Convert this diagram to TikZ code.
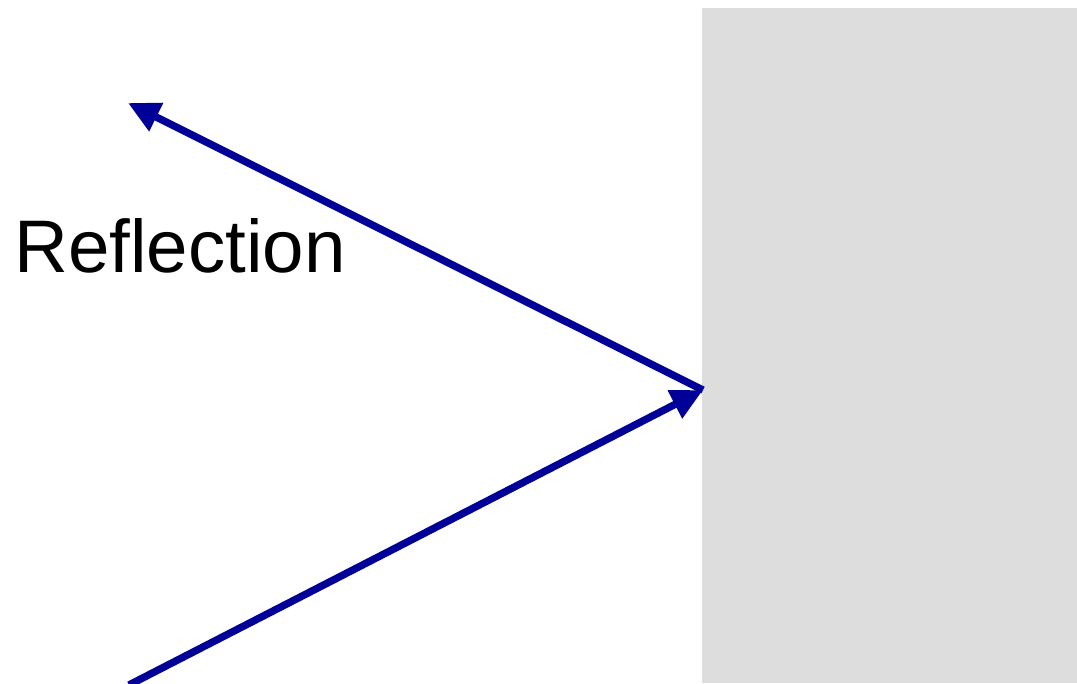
\documentclass[tikz,border=0pt]{standalone}
\usepackage{fontspec}
\setmainfont{Liberation Sans}
\usetikzlibrary{arrows.meta}
\definecolor{ray}{HTML}{000099}
\definecolor{mirror}{HTML}{DDDDDD}

\begin{document}
\begin{tikzpicture}[
    every node/.style={font=\fontsize{21.2}{25}\selectfont},
    beam/.style={
        draw=ray, line width=2.1pt,
        -{Triangle[length=9pt, width=8.5pt]},
    },
]
\useasboundingbox (0,0) rectangle (10.77,6.83);

% ── Mirror surface ─────────────────────────────────────────────────────
\fill[mirror] (7.02,0) rectangle (10.77,6.75);

% ── Rays ───────────────────────────────────────────────────────────────
\coordinate (src) at (1.29,-0.02);
\coordinate (hit) at (7.03,2.93);
\coordinate (out) at (1.28,5.80);

\draw[beam] (src) -- (hit);
\draw[beam] (hit) -- (out);

\node[anchor=base, inner sep=0pt] (label) at (1.80,4.11) {Reflection};

\end{tikzpicture}
\end{document}
